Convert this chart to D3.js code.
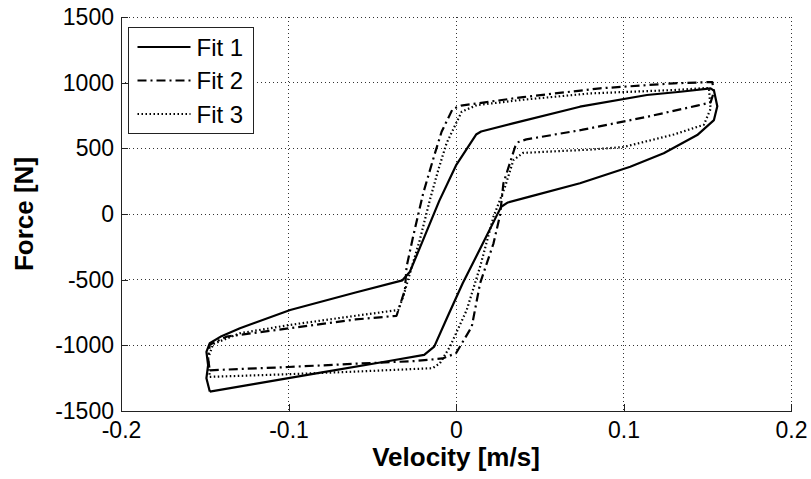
<!DOCTYPE html>
<html>
<head>
<meta charset="utf-8">
<script src="https://cdn.jsdelivr.net/npm/d3@7"></script>
<style>
  body { margin: 0; background: #fff; }
  svg { display: block; }
</style>
</head>
<body>
<svg id="chart" width="811" height="479"></svg>
<script>
// axis ticks
const xTicks = [-0.2, -0.1, 0, 0.1, 0.2];
const xTickLabels = ["-0.2", "-0.1", "0", "0.1", "0.2"];
const yTicks = [-1500, -1000, -500, 0, 500, 1000, 1500];
const yTickLabels = ["-1500", "-1000", "-500", "0", "500", "1000", "1500"];

const seriesNames = ["Fit 1", "Fit 2", "Fit 3"];

// Fit 1 (solid) - loop, velocity [m/s] / force [N]
const fit1V = [-0.147, -0.120, -0.080, -0.040, -0.019, -0.013, -0.005, 0.004, 0.015, 0.024,
  0.027, 0.031, 0.044, 0.074, 0.104, 0.124, 0.144, 0.154, 0.156, 0.154,
  0.152, 0.134, 0.114, 0.074, 0.034, 0.015, 0.012, 0.000, -0.010, -0.020,
  -0.0275, -0.032, -0.060, -0.099, -0.129, -0.140, -0.147, -0.149, -0.148, -0.149, -0.147];
const fit1F = [-1352, -1293, -1206, -1119, -1073, -1010, -780, -527, -250, -20,
  55, 88, 132, 234, 360, 462, 601, 715, 820, 940,
  957, 931, 906, 817, 690, 628, 605, 370, 100, -208,
  -439, -505, -598, -731, -870, -930, -984, -1050, -1150, -1250, -1352];

// Fit 2 (dash-dot)
const fit2V = [-0.147, -0.100, -0.060, -0.025, -0.008, 0.000, 0.0094, 0.0144, 0.0224, 0.0263,
  0.0283, 0.0353, 0.0373, 0.042, 0.075, 0.114, 0.144, 0.152, 0.154, 0.153,
  0.130, 0.086, 0.040, 0.0124, 0.003, -0.002, -0.0086, -0.0126, -0.0196, -0.0256,
  -0.0295, -0.0305, -0.0355, -0.060, -0.0994, -0.137, -0.147, -0.148, -0.147];
const fit2F = [-1190, -1165, -1140, -1120, -1100, -1060, -858, -527, -223, -8,
  234, 512, 548, 568, 640, 740, 825, 850, 930, 1005,
  995, 957, 890, 842, 825, 800, 626, 462, 157, -172,
  -401, -578, -775, -803, -870, -934, -995, -1100, -1190];

// Fit 3 (dotted)
const fit3V = [-0.147, -0.100, -0.060, -0.014, -0.0096, -0.0036, 0.0064, 0.0144, 0.0224, 0.0293,
  0.0343, 0.040, 0.060, 0.080, 0.100, 0.130, 0.148, 0.152, 0.151, 0.130,
  0.080, 0.040, 0.0124, 0.0034, -0.0056, -0.0106, -0.0156, -0.0216, -0.0275, -0.0315,
  -0.0345, -0.060, -0.0994, -0.129, -0.145, -0.148, -0.147];
const fit3F = [-1240, -1220, -1200, -1174, -1136, -1010, -731, -401, -20, 208,
  411, 465, 478, 490, 510, 605, 680, 800, 960, 944,
  918, 870, 829, 779, 540, 335, 107, -198, -451, -629,
  -731, -775, -845, -908, -990, -1100, -1240];

const margin = { top: 17, right: 20, bottom: 68, left: 121 };
const width = 811, height = 479;
const plotW = width - margin.left - margin.right;
const plotH = height - margin.top - margin.bottom;

const svg = d3.select("#chart");
const font = "'Liberation Sans', Arial, Helvetica, sans-serif";

const x = d3.scaleLinear().domain([-0.2, 0.2]).range([0, plotW]);
const y = d3.scaleLinear().domain([-1500, 1500]).range([plotH, 0]);

const g = svg.append("g").attr("transform", `translate(${margin.left},${margin.top})`);

// grid (dotted)
g.append("g")
  .selectAll("line")
  .data(xTicks.slice(1))
  .join("line")
  .attr("x1", (d) => x(d)).attr("x2", (d) => x(d))
  .attr("y1", 0).attr("y2", plotH)
  .attr("stroke", "#333")
  .attr("stroke-width", 1)
  .attr("stroke-dasharray", "1,3")
  .attr("shape-rendering", "crispEdges");

g.append("g")
  .selectAll("line")
  .data(yTicks.slice(1))
  .join("line")
  .attr("x1", 0).attr("x2", plotW)
  .attr("y1", (d) => y(d)).attr("y2", (d) => y(d))
  .attr("stroke", "#333")
  .attr("stroke-width", 1)
  .attr("stroke-dasharray", "1,3")
  .attr("shape-rendering", "crispEdges");

// axes, ticks pointing inward like matlab
const xAxis = d3.axisBottom(x)
  .tickValues(xTicks)
  .tickFormat((d, i) => xTickLabels[i])
  .tickSizeInner(-7)
  .tickSizeOuter(0)
  .tickPadding(11);

const yAxis = d3.axisLeft(y)
  .tickValues(yTicks)
  .tickFormat((d, i) => yTickLabels[i])
  .tickSizeInner(-7)
  .tickSizeOuter(0)
  .tickPadding(7);

const gx = g.append("g").attr("transform", `translate(0,${plotH})`).call(xAxis);
const gy = g.append("g").call(yAxis);

[gx, gy].forEach((a) => {
  a.select(".domain").attr("stroke", "#222").attr("stroke-width", 1).attr("shape-rendering", "crispEdges");
  a.selectAll(".tick line").attr("stroke", "#222").attr("shape-rendering", "crispEdges");
  a.selectAll(".tick text")
    .attr("fill", "#000")
    .attr("font-family", font)
    .attr("font-size", 23);
});

// curves
const series = [
  { v: fit1V, f: fit1F, dash: null },
  { v: fit2V, f: fit2F, dash: "9,4,2,4" },
  { v: fit3V, f: fit3F, dash: "1.5,2.5" }
];

const line = d3.line()
  .x((d) => x(d[0]))
  .y((d) => y(d[1]));

series.forEach((s) => {
  g.append("path")
    .datum(s.v.map((v, i) => [v, s.f[i]]))
    .attr("d", line)
    .attr("fill", "none")
    .attr("stroke", "#000")
    .attr("stroke-width", 2.2)
    .attr("stroke-linejoin", "round")
    .attr("stroke-dasharray", s.dash);
});

// axis labels
svg.append("text")
  .text("Velocity [m/s]")
  .attr("x", margin.left + x(0))
  .attr("y", 466)
  .attr("text-anchor", "middle")
  .attr("font-family", font)
  .attr("font-weight", "bold")
  .attr("font-size", 26)
  .attr("fill", "#000");

svg.append("text")
  .text("Force [N]")
  .attr("transform", `translate(33,${margin.top + y(0)}) rotate(-90)`)
  .attr("text-anchor", "middle")
  .attr("font-family", font)
  .attr("font-weight", "bold")
  .attr("font-size", 26)
  .attr("fill", "#000");

// legend
const legend = svg.append("g").attr("transform", "translate(128.5,27.5)");
legend.append("rect")
  .attr("width", 125)
  .attr("height", 106)
  .attr("fill", "#fff")
  .attr("stroke", "#222")
  .attr("stroke-width", 1);

const rows = legend.selectAll("g.row")
  .data(seriesNames)
  .join("g")
  .attr("class", "row")
  .attr("transform", (d, i) => `translate(0,${19.5 + i * 33.5})`);

rows.append("line")
  .attr("x1", 9).attr("x2", 62)
  .attr("stroke", "#000")
  .attr("stroke-width", 2.2)
  .attr("stroke-dasharray", (d, i) => series[i].dash);

rows.append("text")
  .text((d) => d)
  .attr("x", 68)
  .attr("dy", "0.36em")
  .attr("font-family", font)
  .attr("font-size", 24)
  .attr("fill", "#000");
</script>
</body>
</html>
